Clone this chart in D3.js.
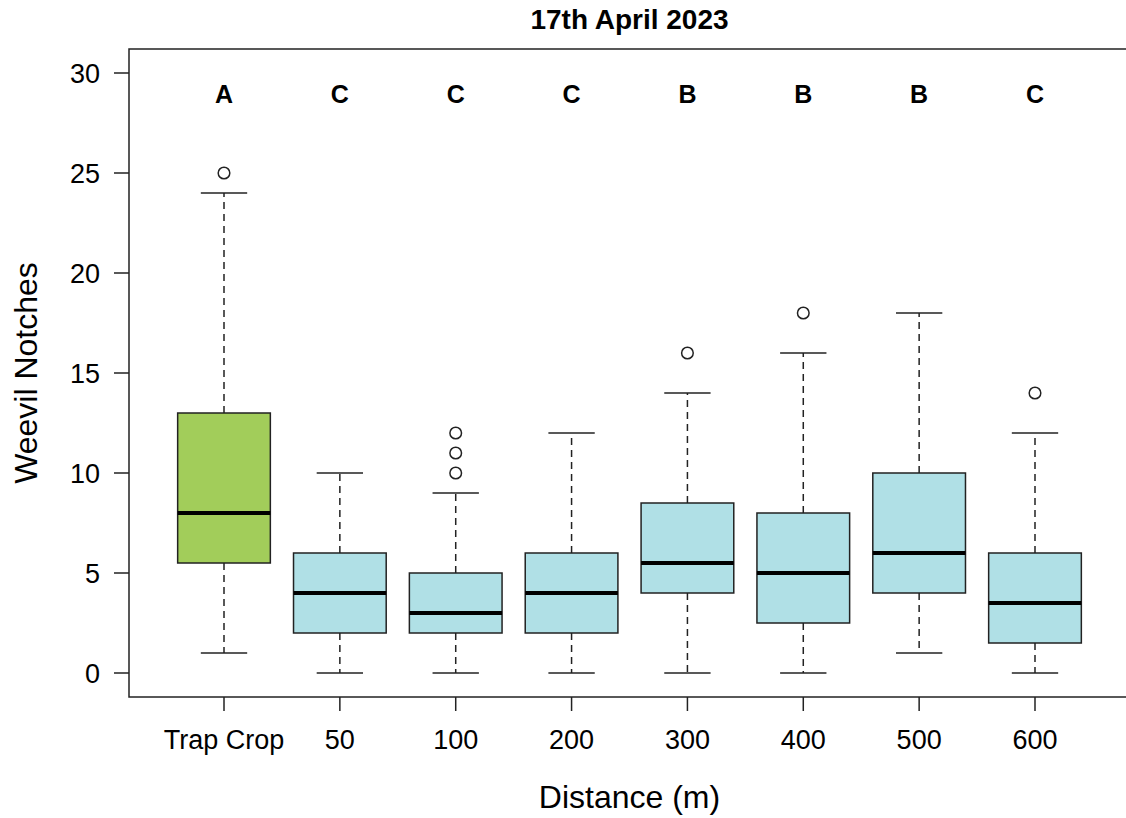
<!DOCTYPE html>
<html>
<head>
<meta charset="utf-8">
<script src="https://cdn.jsdelivr.net/npm/d3@7"></script>
<style>
  body { margin: 0; background: #fff; }
  text { font-family: "Liberation Sans", Arial, sans-serif; }
</style>
</head>
<body>
<div id="chart"></div>
<script>
// data
let groups   = ["Trap Crop", "50", "100", "200", "300", "400", "500", "600"];
let whiskLo  = [1, 0, 0, 0, 0, 0, 1, 0];
let q1       = [5.5, 2, 2, 2, 4, 2.5, 4, 1.5];
let medians  = [8, 4, 3, 4, 5.5, 5, 6, 3.5];
let q3       = [13, 6, 5, 6, 8.5, 8, 10, 6];
let whiskHi  = [24, 10, 9, 12, 14, 16, 18, 12];
let outliers = [[25], [], [10, 11, 12], [], [16], [18], [], [14]];
let letters  = ["A", "C", "C", "C", "B", "B", "B", "C"];
let yTicks   = [0, 5, 10, 15, 20, 25, 30];
let fills    = ["#a2cd5a", "#b0e0e6", "#b0e0e6", "#b0e0e6", "#b0e0e6", "#b0e0e6", "#b0e0e6", "#b0e0e6"];

// set the dimensions and margins of the graph
let margin = {top: 49, right: -4, bottom: 121, left: 129},
    width = 1126 - margin.left - margin.right,
    height = 818 - margin.top - margin.bottom;

let svg = d3.select("#chart")
    .append("svg")
    .attr("width", 1126)
    .attr("height", 818)
    .append("g")
    .attr("transform", "translate(" + margin.left + "," + margin.top + ")");

// R style: xlim 0.5..n+0.5, extended 4% each side
let x = d3.scaleLinear()
    .domain([0.5 - 0.32, groups.length + 0.5 + 0.32])
    .range([0, width]);

// y axis 0..30 sits at 673..73 in page pixels
let y = d3.scaleLinear()
    .domain([0, 30])
    .range([673 - margin.top, 73 - margin.top]);

let boxHalf = 0.4, capHalf = 0.2;

groups.forEach(function(g, i) {
    let cx = x(i + 1);
    let grp = svg.append("g");

    // whiskers
    grp.append("line")
        .attr("x1", cx).attr("x2", cx)
        .attr("y1", y(q3[i])).attr("y2", y(whiskHi[i]))
        .attr("stroke", "#222").attr("stroke-width", 1.5)
        .attr("stroke-dasharray", "7,5");
    grp.append("line")
        .attr("x1", cx).attr("x2", cx)
        .attr("y1", y(q1[i])).attr("y2", y(whiskLo[i]))
        .attr("stroke", "#222").attr("stroke-width", 1.5)
        .attr("stroke-dasharray", "7,5");

    // caps
    [whiskLo[i], whiskHi[i]].forEach(function(v) {
        grp.append("line")
            .attr("x1", x(i + 1 - capHalf)).attr("x2", x(i + 1 + capHalf))
            .attr("y1", y(v)).attr("y2", y(v))
            .attr("stroke", "#222").attr("stroke-width", 1.5);
    });

    // box
    grp.append("rect")
        .attr("x", x(i + 1 - boxHalf))
        .attr("width", x(i + 1 + boxHalf) - x(i + 1 - boxHalf))
        .attr("y", y(q3[i]))
        .attr("height", y(q1[i]) - y(q3[i]))
        .attr("fill", fills[i])
        .attr("stroke", "#222").attr("stroke-width", 1.5);

    // median
    grp.append("line")
        .attr("x1", x(i + 1 - boxHalf)).attr("x2", x(i + 1 + boxHalf))
        .attr("y1", y(medians[i])).attr("y2", y(medians[i]))
        .attr("stroke", "#000").attr("stroke-width", 4);

    // outliers
    outliers[i].forEach(function(v) {
        grp.append("circle")
            .attr("cx", cx).attr("cy", y(v)).attr("r", 5.8)
            .attr("fill", "none")
            .attr("stroke", "#222").attr("stroke-width", 1.5);
    });

    // letters
    grp.append("text")
        .attr("x", cx).attr("y", y(28.5))
        .attr("text-anchor", "middle")
        .attr("font-size", 25).attr("font-weight", "bold")
        .text(letters[i]);
});

// frame
svg.append("rect")
    .attr("x", 0).attr("y", 0)
    .attr("width", width).attr("height", height)
    .attr("fill", "none")
    .attr("stroke", "#222").attr("stroke-width", 1.5);

// y axis ticks
let yAxis = svg.append("g");
yAxis.selectAll("line.tick")
    .data(yTicks).enter().append("line")
    .attr("x1", -15).attr("x2", 0)
    .attr("y1", d => y(d)).attr("y2", d => y(d))
    .attr("stroke", "#222").attr("stroke-width", 1.5);
yAxis.selectAll("text")
    .data(yTicks).enter().append("text")
    .attr("x", -29).attr("y", d => y(d))
    .attr("dy", "0.36em")
    .attr("text-anchor", "end")
    .attr("font-size", 27)
    .text(d => d);

// x axis ticks
let xAxis = svg.append("g").attr("transform", "translate(0," + height + ")");
xAxis.selectAll("line")
    .data(groups).enter().append("line")
    .attr("x1", (d, i) => x(i + 1)).attr("x2", (d, i) => x(i + 1))
    .attr("y1", 0).attr("y2", 14)
    .attr("stroke", "#222").attr("stroke-width", 1.5);
xAxis.selectAll("text")
    .data(groups).enter().append("text")
    .attr("x", (d, i) => x(i + 1)).attr("y", 52)
    .attr("text-anchor", "middle")
    .attr("font-size", 27)
    .text(d => d);

// title and axis labels
svg.append("text")
    .attr("x", width / 2).attr("y", 29 - margin.top)
    .attr("text-anchor", "middle")
    .attr("font-size", 28).attr("font-weight", "bold")
    .text("17th April 2023");

svg.append("text")
    .attr("x", width / 2).attr("y", 808 - margin.top)
    .attr("text-anchor", "middle")
    .attr("font-size", 32)
    .text("Distance (m)");

svg.append("text")
    .attr("transform", "translate(" + (37 - margin.left) + "," + (height / 2) + ") rotate(-90)")
    .attr("text-anchor", "middle")
    .attr("font-size", 32)
    .text("Weevil Notches");
</script>
</body>
</html>
